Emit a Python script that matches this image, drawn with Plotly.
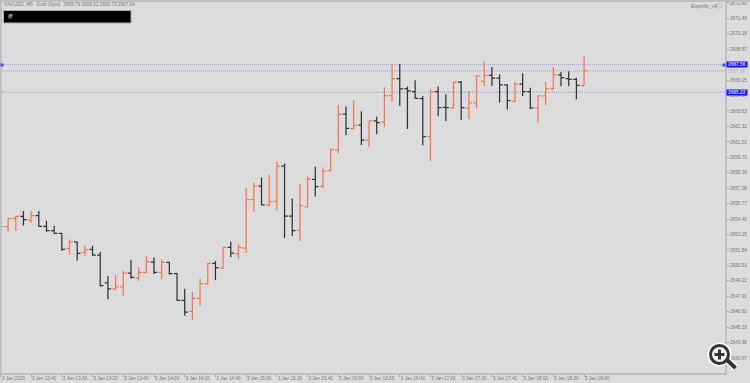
import plotly.graph_objects as go

opens = [2653.81,2653.81,2654.52,2654.69,2654.37,2654.74,2653.84,2653.47,2653.24,2651.94,
         2652.51,2651.63,2651.88,2651.40,2649.05,2648.54,2648.69,2649.87,2649.45,2649.93,
         2650.81,2649.93,2650.78,2649.82,2647.55,2646.62,2647.72,2648.97,2650.69,2650.30,
         2652.05,2651.52,2652.00,2656.13,2657.26,2655.67,2655.96,2658.96,2654.71,2653.49,
         2655.50,2657.82,2657.23,2658.56,2660.31,2663.37,2662.13,2662.44,2661.16,2662.78,
         2662.70,2664.93,2666.38,2665.53,2665.27,2664.68,2661.45,2665.27,2663.94,2663.89,
         2666.07,2663.86,2664.31,2666.15,2666.66,2666.41,2665.84,2664.45,2665.90,2665.27,
         2663.89,2664.91,2665.50,2666.69,2666.38,2666.32,2665.79]
highs = [2654.20,2654.49,2654.71,2655.14,2655.17,2655.14,2654.32,2653.89,2653.27,2652.73,
         2652.53,2652.19,2652.19,2651.66,2649.62,2649.68,2650.10,2651.01,2650.36,2651.29,
         2651.20,2651.01,2650.81,2649.85,2648.54,2648.29,2649.36,2650.72,2650.89,2652.11,
         2652.53,2652.31,2657.12,2657.57,2657.99,2658.19,2659.35,2659.18,2656.21,2657.43,
         2658.08,2658.90,2658.84,2660.43,2664.14,2664.02,2664.56,2663.60,2662.81,2663.14,
         2665.64,2667.59,2667.62,2665.70,2666.24,2664.91,2665.47,2665.70,2665.05,2666.12,
         2666.18,2665.33,2666.66,2667.85,2667.37,2666.75,2665.90,2666.09,2666.83,2665.61,
         2664.96,2666.09,2667.37,2666.94,2667.00,2666.46,2668.32]
lows = [2653.50,2653.41,2653.47,2653.92,2654.15,2653.81,2653.38,2653.19,2651.77,2651.43,
        2650.92,2651.35,2651.35,2648.74,2647.64,2648.43,2647.92,2649.42,2649.22,2649.85,
        2649.79,2649.39,2649.76,2647.53,2646.25,2645.86,2647.07,2648.88,2649.28,2650.24,
        2651.23,2651.06,2651.60,2655.08,2655.62,2655.56,2655.16,2652.84,2653.01,2652.59,
        2655.45,2656.38,2657.09,2658.50,2660.03,2661.56,2662.07,2660.74,2660.57,2661.65,
        2662.30,2664.42,2664.06,2662.10,2664.65,2660.72,2659.36,2663.18,2662.78,2663.83,
        2662.87,2662.92,2663.83,2665.73,2665.75,2664.34,2663.75,2664.40,2664.91,2663.80,
        2662.61,2664.11,2665.47,2665.73,2665.73,2664.62,2665.79]
closes = [2653.81,2654.49,2654.69,2654.40,2654.74,2653.84,2653.47,2653.24,2651.88,2652.51,
          2651.54,2651.86,2651.40,2648.80,2648.54,2648.69,2649.87,2649.51,2649.93,2650.84,
          2649.93,2650.78,2649.82,2647.55,2646.56,2647.72,2648.97,2650.69,2650.33,2652.05,
          2651.57,2652.03,2656.10,2657.26,2655.67,2655.93,2658.96,2654.71,2653.47,2655.59,
          2657.85,2657.20,2658.53,2660.34,2663.34,2662.15,2662.40,2661.16,2662.81,2662.64,
          2664.93,2666.35,2665.50,2665.33,2664.71,2661.45,2665.27,2663.92,2663.92,2666.07,
          2663.92,2664.31,2666.60,2666.66,2666.41,2665.84,2664.51,2665.90,2665.27,2663.89,
          2664.91,2665.50,2666.69,2666.46,2666.32,2665.81,2667.04]
bar_index = list(range(len(opens)))

price_ticks = [2672.80,2671.49,2670.18,2668.87,2667.56,2666.25,2664.94,2663.63,2662.32,2661.01,
               2659.70,2658.39,2657.08,2655.77,2654.46,2653.15,2651.84,2650.53,2649.22,2647.91,
               2646.60,2645.29,2643.98,2642.67]
time_tick_bars = [0,4,8,12,16,20,24,28,32,36,40,44,48,52,56,60,64,68,72,76]
time_tick_labels = ["3 Jan 2025","3 Jan 12:40","3 Jan 13:00","3 Jan 13:20","3 Jan 13:40",
                    "3 Jan 14:00","3 Jan 14:20","3 Jan 14:40","3 Jan 15:00","3 Jan 15:20",
                    "3 Jan 15:40","3 Jan 16:00","3 Jan 16:20","3 Jan 16:40","3 Jan 17:00",
                    "3 Jan 17:20","3 Jan 17:40","3 Jan 18:00","3 Jan 18:20","3 Jan 18:40"]
title_text = "XAUUSD, M5:  Gold (Spot)  2665.79 2668.32 2665.79 2667.04"
level_upper = 2667.56
level_lower = 2665.22
last_price = 2667.04

W, H = 750, 383
L, R, T, B = 0, 25, 2, 10
BG = "#dcdcdc"
EDGE = "#bfbfbf"
FONT = "Liberation Sans"
TXT = "#777777"

def px(x):
    return (x - L) / (W - L - R)

def py(y):
    return (H - B - y) / (H - T - B)

def rect(x0, y0, x1, y1, fill, line=None, lw=0, kind="rect"):
    return dict(type=kind, xref="paper", yref="paper", x0=px(x0), x1=px(x1), y0=py(y0), y1=py(y1),
                fillcolor=fill, line=dict(color=line or fill, width=lw), layer="above")

def seg(x0, y0, x1, y1, color, lw):
    return dict(type="line", xref="paper", yref="paper", x0=px(x0), x1=px(x1), y0=py(y0), y1=py(y1),
                line=dict(color=color, width=lw), layer="above")

fig = go.Figure(go.Ohlc(
    x=bar_index, open=opens, high=highs, low=lows, close=closes, tickwidth=0.42,
    increasing=dict(line=dict(color="#f8754a", width=1.25)),
    decreasing=dict(line=dict(color="#333333", width=1.25)),
    hoverinfo="skip",
))

shapes = [
    dict(type="line", xref="paper", yref="y", x0=0, x1=1, y0=last_price, y1=last_price,
         line=dict(color="#cdcdcd", width=2), layer="below"),
    dict(type="line", xref="paper", yref="y", x0=0, x1=1, y0=level_upper, y1=level_upper,
         line=dict(color="#9696ea", width=1, dash="1px,1px"), layer="below"),
    dict(type="line", xref="paper", yref="y", x0=0, x1=1, y0=level_lower, y1=level_lower,
         line=dict(color="#9696ea", width=1, dash="1px,1px"), layer="below"),
    rect(0, 0, W, 2, EDGE),
    rect(0, 0, 2, 373, EDGE),
    rect(0.5, 63.5, 3.5, 66.5, "#4a4ad0"),
    rect(722.5, 63.5, 725.5, 66.5, "#4a4ad0"),
    rect(3.5, 10.5, 131, 23, "#000000", "#a8a8a8", 1),
    rect(8, 14.5, 12, 18.5, "#5a5a5a"),
    rect(9.5, 14, 12.5, 16.5, "#8a8a8a"),
    rect(717, 4, 722, 8, "rgba(0,0,0,0)", "#b5b5b5", 0.8),
    # zoom badge
    seg(727, 360, 735.5, 368, "#ffffff", 7),
    rect(707.5, 342.5, 731.5, 366.5, "#ffffff", kind="circle"),
    seg(727, 360, 735.5, 368, "#333333", 4),
    rect(710.5, 345.5, 728.5, 363.5, "#f2f2f2", "#333333", 3, kind="circle"),
    seg(714.5, 354.5, 724.5, 354.5, "#333333", 3),
    seg(719.5, 349.5, 719.5, 359.5, "#333333", 3),
]

def note(text, x, y, color=TXT, size=4.7, bg=None, anchor="left"):
    return dict(text=text, xref="paper", yref="paper", x=px(x), y=py(y), xanchor=anchor, yanchor="middle",
                showarrow=False, font=dict(family=FONT, size=size, color=color), bgcolor=bg,
                borderpad=0, captureevents=False)

annotations = [
    note(title_text, 3, 4.3),
    note("ExpInfo_v4", 690, 6.3, size=5.2),
    note(f"{last_price:.2f}", 727, 71, color="#b4b4b4"),
    note(f"<b> {level_upper:.2f} </b>", 726, 65, color="#d8d8ff", bg="#1414f0"),
    note(f"<b> {level_lower:.2f} </b>", 726, 92, color="#d8d8ff", bg="#1414f0"),
]

fig.update_layout(
    width=W, height=H, margin=dict(l=L, r=R, t=T, b=B, autoexpand=False),
    paper_bgcolor=BG, plot_bgcolor=BG, showlegend=False,
    shapes=shapes, annotations=annotations,
    font=dict(family=FONT, color=TXT, size=4.7),
    xaxis=dict(range=[-0.052, 94.35], rangeslider=dict(visible=False), showgrid=False, zeroline=False,
               tickmode="array", tickvals=time_tick_bars, ticktext=time_tick_labels,
               ticks="outside", ticklen=2, tickwidth=1, tickcolor="#a0a0a0",
               showline=True, linecolor=EDGE, linewidth=1.5,
               tickfont=dict(family=FONT, size=4.7, color=TXT), ticklabelshift=13, ticklabelstandoff=-2,
               tickangle=0),
    yaxis=dict(range=[2641.39, 2672.88], side="right", showgrid=False, zeroline=False,
               tickmode="array", tickvals=price_ticks, ticktext=[f"{v:.2f}" for v in price_ticks],
               ticks="outside", ticklen=2, tickwidth=1, tickcolor="#a0a0a0",
               showline=True, linecolor=EDGE, linewidth=2,
               tickfont=dict(family=FONT, size=4.7, color=TXT)),
)

fig.write_html("out.html", config=dict(displayModeBar=False),
               post_script="document.body.style.margin='0';document.body.style.background='#dcdcdc';document.body.style.overflow='hidden';")
